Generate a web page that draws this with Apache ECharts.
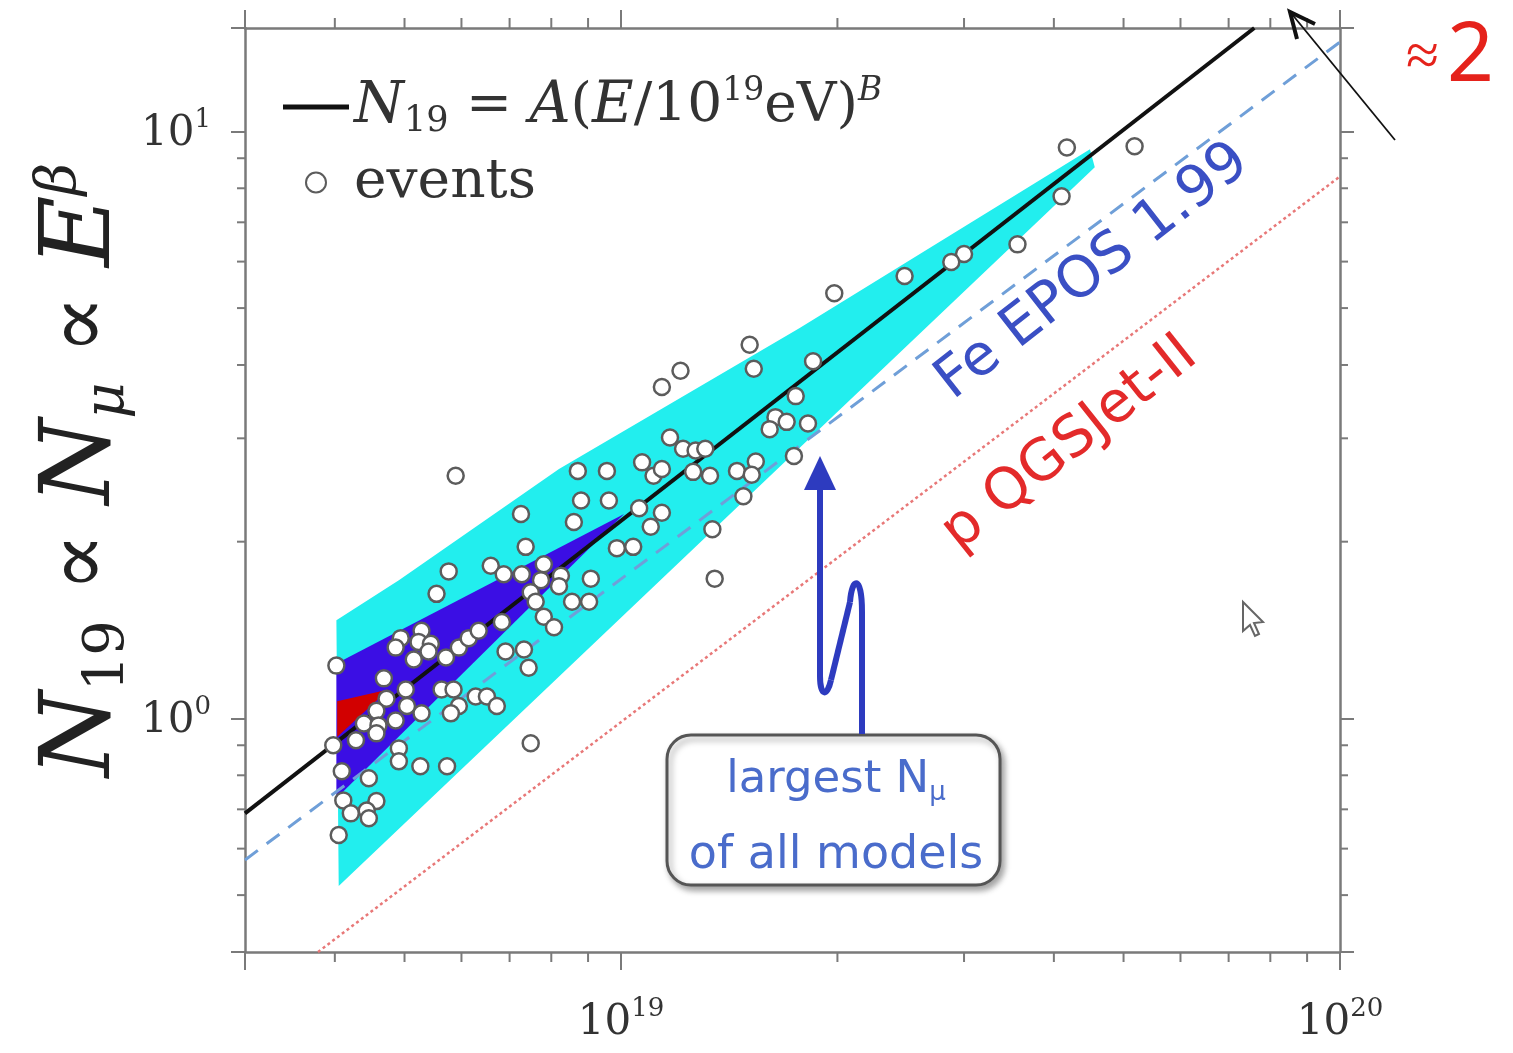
<!DOCTYPE html>
<html>
<head>
<meta charset="utf-8">
<script src="https://cdn.jsdelivr.net/npm/echarts@6/dist/echarts.min.js"></script>
<style>
  html, body { margin: 0; padding: 0; background: #fff; }
  #main { width: 1513px; height: 1053px; }
</style>
</head>
<body>
<div id="main"></div>
<script>
// energies are in units of 10^18 eV
const xRange = [3, 100];
const yRange = [0.4, 15];
const xMinor = [4, 5, 6, 7, 8, 9, 20, 30, 40, 50, 60, 70, 80, 90];
const yMinor = [0.5, 0.6, 0.7, 0.8, 0.9, 2, 3, 4, 5, 6, 7, 8, 9];

const eventsE = [41.7, 51.8, 41.0, 35.6, 30.0, 28.8, 24.8, 19.8, 15.1, 15.3,
  12.1, 11.4, 18.5, 17.5, 16.4, 17.0, 16.1, 18.2, 17.4, 11.7,
  12.2, 12.7, 13.1, 8.71, 9.56, 10.7, 11.1, 11.4, 12.6, 13.3,
  14.5, 15.4, 15.2, 14.8, 8.80, 9.62, 10.6, 11.4, 8.60, 11.0,
  13.4, 9.87, 10.4, 13.5, 5.89, 7.26, 7.37, 5.76, 6.59, 6.87,
  7.28, 7.81, 7.74, 8.25, 8.20, 9.08, 5.54, 7.49, 7.61, 8.55,
  9.03, 6.83, 7.81, 8.07, 4.02, 4.94, 4.86, 5.28, 5.23, 5.44,
  5.15, 5.40, 5.71, 5.95, 6.14, 6.34, 6.91, 7.33, 7.44, 4.68,
  5.02, 4.72, 5.04, 4.57, 4.39, 4.60, 4.86, 5.28, 5.63, 5.85,
  6.28, 6.51, 5.95, 5.80, 6.72, 4.57, 4.28, 3.98, 4.91, 4.91,
  7.49, 5.26, 5.73, 4.09, 4.46, 4.11, 4.57, 4.21, 4.43, 4.46,
  4.05];
const eventsN = [9.39, 9.43, 7.75, 6.42, 6.18, 5.99, 5.67, 5.30, 4.33, 3.94,
  3.91, 3.67, 4.06, 3.54, 3.26, 3.20, 3.11, 3.18, 2.80, 3.01,
  2.88, 2.86, 2.88, 2.64, 2.64, 2.73, 2.59, 2.66, 2.63, 2.59,
  2.64, 2.74, 2.60, 2.39, 2.35, 2.35, 2.28, 2.24, 2.16, 2.12,
  2.10, 1.95, 1.96, 1.73, 2.59, 2.23, 1.96, 1.78, 1.82, 1.76,
  1.76, 1.83, 1.72, 1.75, 1.68, 1.73, 1.63, 1.64, 1.58, 1.58,
  1.58, 1.46, 1.49, 1.43, 1.23, 1.37, 1.32, 1.41, 1.35, 1.34,
  1.26, 1.30, 1.27, 1.32, 1.37, 1.41, 1.30, 1.31, 1.22, 1.17,
  1.12, 1.08, 1.05, 1.03, 0.98, 0.973, 0.992, 1.02, 1.12, 1.12,
  1.09, 1.09, 1.05, 1.02, 1.05, 0.943, 0.918, 0.90, 0.889, 0.845,
  0.907, 0.829, 0.829, 0.813, 0.791, 0.725, 0.723, 0.689, 0.697, 0.676,
  0.633];

// fit N19 = A (E/10^19 eV)^B
const fitE = [3, 76];
const fitN = [0.689, 15];
// Fe EPOS 1.99 and p QGSJet-II expectations
const feE = [3, 100];
const feN = [0.574, 14.2];
const protonE = [3.79, 100];
const protonN = [0.4, 8.38];

// uncertainty bands (outer, inner, core)
const outerBandE = [4.02, 4.91, 8.20, 17.7, 44.9, 45.6, 4.05];
const outerBandN = [1.47, 1.72, 2.66, 4.62, 9.32, 8.69, 0.518];
const innerBandE = [4.02, 10.1, 4.02];
const innerBandN = [1.24, 2.23, 0.731];
const coreBandE = [4.03, 4.75, 4.03];
const coreBandN = [1.07, 1.12, 0.93];

const axisColor = '#7a7a7a';
const serif = 'DejaVu Serif';

function pairs(xs, ys) {
  return xs.map((x, i) => [x, ys[i]]);
}

function powLabel(v, shift) {
  const p = Math.log10(v);
  if (Math.abs(p - Math.round(p)) > 1e-6) return '';
  return '{b|10}{s|' + (Math.round(p) + shift) + '}';
}

const labelRich = {
  b: { fontFamily: serif, fontSize: 42, color: '#333', lineHeight: 48, verticalAlign: 'bottom' },
  s: { fontFamily: serif, fontSize: 26, color: '#333', lineHeight: 30, verticalAlign: 'top' }
};

function bandSeries(E, N, color, z) {
  const verts = pairs(E, N);
  return {
    type: 'custom',
    silent: true,
    z: z,
    data: [verts[0]],
    renderItem: (params, api) => ({
      type: 'polygon',
      shape: { points: verts.map(v => api.coord(v)) },
      style: { fill: color }
    })
  };
}

function tick(x1, y1, x2, y2) {
  return { type: 'line', shape: { x1, y1, x2, y2 }, style: { stroke: axisColor, lineWidth: 2 } };
}

const chart = echarts.init(document.getElementById('main'));

const baseX = {
  type: 'log', min: xRange[0], max: xRange[1],
  splitLine: { show: false },
  axisLine: { show: true, onZero: false, lineStyle: { color: axisColor, width: 2.5 } },
  axisTick: { show: true, length: 18, lineStyle: { color: axisColor, width: 2 } }
};
const baseY = {
  type: 'log', min: yRange[0], max: yRange[1],
  splitLine: { show: false },
  axisLine: { show: true, onZero: false, lineStyle: { color: axisColor, width: 2.5 } },
  axisTick: { show: true, length: 14, lineStyle: { color: axisColor, width: 2 } }
};

const nameRich = {
  n: { fontFamily: serif, fontSize: 88, lineHeight: 104, fill: '#222' },
  i: { fontFamily: serif, fontStyle: 'italic', fontSize: 98, lineHeight: 104, fill: '#222' },
  sub: { fontFamily: serif, fontSize: 56, lineHeight: 62, verticalAlign: 'bottom', fill: '#222' },
  subi: { fontFamily: serif, fontStyle: 'italic', fontSize: 56, lineHeight: 62, verticalAlign: 'bottom', fill: '#222' },
  supi: { fontFamily: serif, fontStyle: 'italic', fontSize: 56, lineHeight: 58, verticalAlign: 'top', fill: '#222' }
};

chart.setOption({
  animation: false,
  backgroundColor: '#fff',
  grid: { left: 245, right: 173, top: 28, bottom: 101 },
  xAxis: [
    Object.assign({}, baseX, {
      position: 'bottom',
      axisLabel: { margin: 44, formatter: v => powLabel(v, 18), rich: labelRich }
    }),
    Object.assign({}, baseX, { position: 'top', axisLabel: { show: false } })
  ],
  yAxis: [
    Object.assign({}, baseY, {
      position: 'left',
      axisLabel: { margin: 34, formatter: v => powLabel(v, 0), rich: labelRich }
    }),
    Object.assign({}, baseY, { position: 'right', axisLabel: { show: false } })
  ],
  legend: {
    left: 278, top: 70, orient: 'vertical',
    itemWidth: 66, itemHeight: 20, itemGap: 16,
    data: [
      { name: 'fit', icon: 'path://M0 0H66V5H0Z' },
      { name: 'events' }
    ],
    formatter: name => name === 'fit'
      ? '{i|N}{sub|19}{n| = }{i|A}{n|(}{i|E}{n|/10}{sup|19}{n|eV)}{supi|B}'
      : '{n|events}',
    textStyle: {
      fontFamily: serif, fontSize: 52, color: '#333',
      rich: {
        n: { fontFamily: serif, fontSize: 55, lineHeight: 64, color: '#333' },
        i: { fontFamily: serif, fontStyle: 'italic', fontSize: 57, lineHeight: 64, color: '#333' },
        sub: { fontFamily: serif, fontSize: 35, lineHeight: 36, verticalAlign: 'bottom', color: '#333' },
        sup: { fontFamily: serif, fontSize: 33, lineHeight: 32, verticalAlign: 'top', color: '#333' },
        supi: { fontFamily: serif, fontStyle: 'italic', fontSize: 33, lineHeight: 32, verticalAlign: 'top', color: '#333' }
      }
    }
  },
  series: [
    bandSeries(outerBandE, outerBandN, '#22eeee', 1),
    bandSeries(innerBandE, innerBandN, '#3b0ee4', 1),
    bandSeries(coreBandE, coreBandN, '#d20000', 1),
    {
      name: 'Fe EPOS 1.99', type: 'line', z: 2, symbol: 'none', silent: true,
      data: pairs(feE, feN),
      lineStyle: { color: '#6f9fd8', width: 3, type: [16, 11] }
    },
    {
      name: 'p QGSJet-II', type: 'line', z: 2, symbol: 'none', silent: true,
      data: pairs(protonE, protonN),
      lineStyle: { color: '#e87878', width: 2.5, type: [3, 3] }
    },
    {
      name: 'fit', type: 'line', z: 3, symbol: 'none', silent: true,
      data: pairs(fitE, fitN),
      itemStyle: { color: '#111' },
      lineStyle: { color: '#111', width: 4 }
    },
    {
      name: 'events', type: 'scatter', z: 4, symbol: 'circle', symbolSize: 16,
      data: pairs(eventsE, eventsN),
      itemStyle: { color: '#fff', borderColor: '#5c5c5c', borderWidth: 2.5, opacity: 1 }
    },
    {
      type: 'custom', z: 5, silent: true, clip: false,
      data: xMinor.map(v => [v, yRange[0]]),
      renderItem: (params, api) => {
        const b = api.coord([api.value(0), yRange[0]]);
        const t = api.coord([api.value(0), yRange[1]]);
        return { type: 'group', children: [tick(b[0], b[1], b[0], b[1] + 10), tick(t[0], t[1], t[0], t[1] - 10)] };
      }
    },
    {
      type: 'custom', z: 5, silent: true, clip: false,
      data: yMinor.map(v => [xRange[0], v]),
      renderItem: (params, api) => {
        const l = api.coord([xRange[0], api.value(1)]);
        const r = api.coord([xRange[1], api.value(1)]);
        return { type: 'group', children: [tick(l[0], l[1], l[0] - 8, l[1]), tick(r[0], r[1], r[0] + 8, r[1])] };
      }
    }
  ],
  graphic: [
    // y axis title
    {
      type: 'text', x: 84, y: 470, rotation: Math.PI / 2, z: 10,
      style: {
        text: '{i|N}{sub|19}{n| ∝ }{i|N}{subi|μ}{n| ∝ }{i|E}{supi|β}',
        align: 'center', verticalAlign: 'middle', rich: nameRich
      }
    },
    // model labels
    {
      type: 'text', x: 1093, y: 272, rotation: 38 * Math.PI / 180, z: 10,
      style: { text: 'Fe EPOS 1.99', fill: '#3a4fc4', font: '57px "DejaVu Sans"', align: 'center', verticalAlign: 'middle' }
    },
    {
      type: 'text', x: 1070, y: 444, rotation: 38.5 * Math.PI / 180, z: 10,
      style: { text: 'p QGSJet-II', fill: '#e32a2a', font: '57px "DejaVu Sans"', align: 'center', verticalAlign: 'middle' }
    },
    // annotation box
    {
      type: 'rect', z: 10,
      shape: { x: 667, y: 735, width: 333, height: 150, r: 24 },
      style: { fill: '#fff', stroke: '#555', lineWidth: 3, shadowBlur: 6, shadowOffsetX: 3, shadowOffsetY: 4, shadowColor: 'rgba(0,0,0,0.35)' }
    },
    {
      type: 'text', x: 836, y: 780, z: 11,
      style: {
        text: '{a|largest N}{s|μ}', align: 'center', verticalAlign: 'middle',
        rich: {
          a: { fill: '#4a6ccb', font: '45px "DejaVu Sans"', lineHeight: 52 },
          s: { fill: '#4a6ccb', font: '26px "DejaVu Sans"', lineHeight: 30, verticalAlign: 'bottom' }
        }
      }
    },
    {
      type: 'text', x: 836, y: 856, z: 11,
      style: { text: 'of all models', fill: '#4a6ccb', font: '46px "DejaVu Sans"', align: 'center', verticalAlign: 'middle' }
    },
    // wavy arrow
    { type: 'line', z: 11, shape: { x1: 862, y1: 734, x2: 862, y2: 612 }, style: { stroke: '#2d3bbf', lineWidth: 6 } },
    { type: 'bezierCurve', z: 11, shape: { x1: 862, y1: 612, cpx1: 862, cpy1: 575, cpx2: 852, cpy2: 576, x2: 850, y2: 602 }, style: { stroke: '#2d3bbf', lineWidth: 6, fill: 'none' } },
    { type: 'line', z: 11, shape: { x1: 850, y1: 602, x2: 831, y2: 680 }, style: { stroke: '#2d3bbf', lineWidth: 6 } },
    { type: 'bezierCurve', z: 11, shape: { x1: 831, y1: 680, cpx1: 827, cpy1: 698, cpx2: 820, cpy2: 696, x2: 820, y2: 676 }, style: { stroke: '#2d3bbf', lineWidth: 6, fill: 'none' } },
    { type: 'line', z: 11, shape: { x1: 820, y1: 676, x2: 820, y2: 486 }, style: { stroke: '#2d3bbf', lineWidth: 6 } },
    { type: 'polygon', z: 11, shape: { points: [[820, 456], [804, 490], [836, 490]] }, style: { fill: '#2d3bbf' } },
    // slope note
    {
      type: 'text', x: 1450, y: 58, z: 10,
      style: {
        text: '{a|≈}{b|2}', align: 'center', verticalAlign: 'middle',
        rich: {
          a: { fill: '#e5221b', font: '60px "Noto Sans"', lineHeight: 84, padding: [0, 8, 0, 0] },
          b: { fill: '#e5221b', font: '82px "Noto Sans"', lineHeight: 84 }
        }
      }
    },
    { type: 'line', z: 10, shape: { x1: 1395, y1: 140, x2: 1291, y2: 13 }, style: { stroke: '#111', lineWidth: 1.8 } },
    { type: 'polyline', z: 10, shape: { points: [[1297, 39], [1290, 12], [1315, 24]] }, style: { stroke: '#111', lineWidth: 4, fill: 'none' } },
    // mouse pointer
    {
      type: 'polygon', z: 10,
      shape: { points: [[1243, 602], [1243, 631], [1250, 625], [1255, 636], [1259, 634], [1254, 623], [1263, 622]] },
      style: { fill: '#fff', stroke: '#666', lineWidth: 2 }
    }
  ]
});
</script>
</body>
</html>
